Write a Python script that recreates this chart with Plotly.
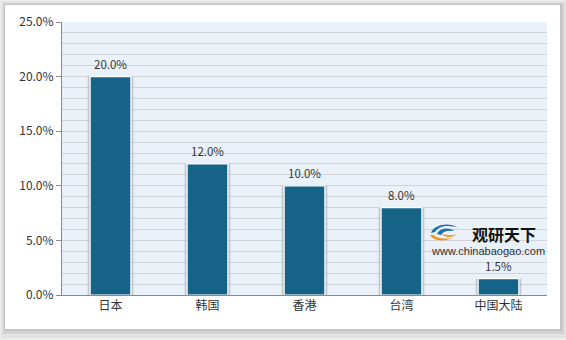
import plotly.graph_objects as go

# Share values by region
regions = ["日本", "韩国", "香港", "台湾", "中国大陆"]
shares = [0.20, 0.12, 0.10, 0.08, 0.015]
y_ticks = [0.0, 0.05, 0.10, 0.15, 0.20, 0.25]
y_tick_text = ["0.0%", "5.0%", "10.0%", "15.0%", "20.0%", "25.0%"]

BAR_COLOR = "#156488"
FONT = "Noto Sans CJK SC, Noto Sans, sans-serif"

fig = go.Figure()

# soft shadow behind each bar
fig.add_trace(go.Bar(
    x=regions, y=shares, width=0.47,
    marker=dict(color="rgba(60,60,60,0.22)", line=dict(width=0)),
    hoverinfo="skip", showlegend=False,
))
# main bars
fig.add_trace(go.Bar(
    x=regions, y=shares, width=0.42,
    marker=dict(color=BAR_COLOR, line=dict(color="white", width=1.2)),
    showlegend=False,
))

# value labels above bars
for r, v in zip(regions, shares):
    fig.add_annotation(
        x=r, y=v, text=f"{v*100:.1f}%", showarrow=False,
        yanchor="bottom", yshift=3,
        font=dict(family=FONT, size=11.5, color="#333333"),
    )

# card frame with drop shadow around the chart
W, H = 566, 340
L, R, T, B = 62, 19, 22, 45
pw, ph = W - L - R, H - T - B


def px_to_paper(x0, y0, x1, y1):
    return dict(x0=(x0 - L) / pw, x1=(x1 - L) / pw,
                y0=(H - B - y1) / ph, y1=(H - B - y0) / ph)


for (x0, y0, x1, y1, c) in [
    (1, 1, 566, 338, "#e2e2e2"),
    (3, 3, 564, 334, "#d2d2d2"),
    (4, 4, 562, 331, "#c4c4c4"),
    (5, 5, 560, 329, "#ffffff"),
]:
    fig.add_shape(type="rect", xref="paper", yref="paper", layer="below",
                  line=dict(width=0), fillcolor=c, **px_to_paper(x0, y0, x1, y1))

# light blue plotting area
fig.add_shape(type="rect", xref="paper", yref="paper", layer="below",
              x0=0, x1=1, y0=0, y1=1, line=dict(width=0), fillcolor="#ebf1f9")

# watermark logo
ax = (444 - L) / pw
ay = (H - B - 233) / ph
fig.add_shape(type="path", xref="paper", yref="paper",
              xsizemode="pixel", ysizemode="pixel", xanchor=ax, yanchor=ay,
              path=("M -13,0 C -10,9 6,11 14,5 C 7,8 -5,8 -9,1 Z "
                    "M -7,-1 C -4,5 5,6 10,2 C 4,3 -1,2 -3,-2 Z"),
              fillcolor="#1d6fb0", line=dict(width=0))
fig.add_shape(type="path", xref="paper", yref="paper",
              xsizemode="pixel", ysizemode="pixel", xanchor=ax, yanchor=ay,
              path=("M -14,-2 C -11,-8 1,-9 8,-5 C 2,-6 -7,-6 -10,-2 Z "
                    "M -3,-1 C 2,-5 9,-5 13,-1 C 8,-3 3,-2 -3,-1 Z"),
              fillcolor="#f29418", line=dict(width=0))
fig.add_annotation(xref="paper", yref="paper", x=(504 - L) / pw, y=(H - B - 234) / ph,
                   text="<b>观研天下</b>", showarrow=False, xanchor="center", yanchor="middle",
                   font=dict(family=FONT, size=16, color="#111111"))
fig.add_annotation(xref="paper", yref="paper", x=(488 - L) / pw, y=(H - B - 251) / ph,
                   text="www.chinabaogao.com", showarrow=False, xanchor="center", yanchor="middle",
                   font=dict(family="Liberation Sans, Arial, sans-serif", size=11, color="#333333"))

fig.update_layout(
    width=W, height=H,
    margin=dict(l=L, r=R, t=T, b=B),
    paper_bgcolor="#ececec",
    plot_bgcolor="rgba(0,0,0,0)",
    barmode="overlay",
    bargap=0.5,
    font=dict(family=FONT, size=12, color="#333333"),
    xaxis=dict(
        showline=True, linecolor="#8a8a8a", linewidth=1,
        ticks="", tickfont=dict(size=12, color="#333333"),
        showgrid=False, fixedrange=True,
    ),
    yaxis=dict(
        range=[0, 0.25], tickvals=y_ticks, ticktext=y_tick_text,
        showline=True, linecolor="#8a8a8a", linewidth=1,
        ticks="outside", ticklen=5, tickcolor="#8a8a8a",
        tickfont=dict(size=12, color="#333333"),
        showgrid=True, gridcolor="#d0d3d7", gridwidth=1,
        minor=dict(dtick=0.01, tick0=0, showgrid=True, gridcolor="#d0d3d7", gridwidth=1),
        zeroline=False, fixedrange=True,
    ),
)

fig.write_html("out.html")
